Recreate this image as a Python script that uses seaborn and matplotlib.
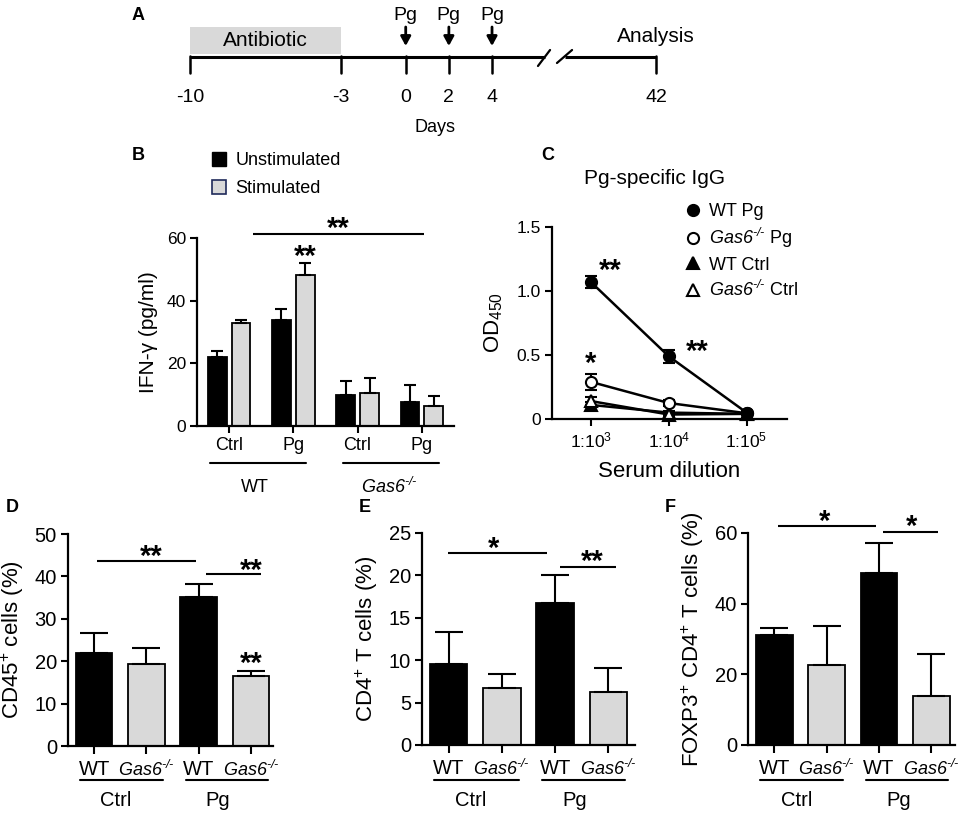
import numpy as np
import pandas as pd
import matplotlib
matplotlib.use('Agg')
import matplotlib.pyplot as plt
import matplotlib.transforms as mtrans
from matplotlib.patches import Rectangle, Patch
from matplotlib.lines import Line2D
import seaborn as sns

# ---- values ----
# A: timeline (days)
timeline_days = [-10, -3, 0, 2, 4, 42]
pg_days = [0, 2, 4]
antibiotic_days = [-10, -3]

# B: IFN-gamma (pg/ml)
b_groups = ['WT Ctrl', 'WT Pg', 'Gas6 Ctrl', 'Gas6 Pg']
b_ticklabels = ['Ctrl', 'Pg', 'Ctrl', 'Pg']
b_unstim = [22.0, 33.7, 9.9, 7.7]
b_unstim_err = [2.0, 3.7, 4.4, 5.5]
b_stim = [32.8, 48.2, 10.6, 6.5]
b_stim_err = [1.1, 3.7, 4.7, 3.2]

# C: Pg-specific IgG (OD450)
c_dilutions = ['1:10$^{3}$', '1:10$^{4}$', '1:10$^{5}$']
c_wt_pg = [1.07, 0.49, 0.05]
c_wt_pg_err = [0.045, 0.05, 0.01]
c_gas6_pg = [0.29, 0.125, 0.045]
c_gas6_pg_err = [0.06, 0.02, 0.01]
c_wt_ctrl = [0.11, 0.05, 0.04]
c_wt_ctrl_err = [0.02, 0.01, 0.005]
c_gas6_ctrl = [0.14, 0.035, 0.04]
c_gas6_ctrl_err = [0.03, 0.01, 0.005]

# D-F: cell percentages
cell_groups = ['WT Ctrl', 'Gas6 Ctrl', 'WT Pg', 'Gas6 Pg']
d_cd45 = [22.0, 19.4, 35.2, 16.4]
d_cd45_err = [4.6, 3.6, 3.1, 1.2]
e_cd4 = [9.5, 6.7, 16.7, 6.2]
e_cd4_err = [3.8, 1.7, 3.4, 2.9]
f_foxp3 = [31.2, 22.7, 48.7, 13.9]
f_foxp3_err = [1.9, 10.9, 8.5, 11.8]

# italic gene name with a small "-/-" (real hyphens, not minus signs)
GAS6 = '$\\mathsf{Gas6}^{\\mathsf{\u2010/\u2010}}$'
GREY = '#d9d9d9'

sns.set_style('ticks', rc={'axes.edgecolor': 'black', 'xtick.color': 'black',
                           'ytick.color': 'black', 'text.color': 'black',
                           'axes.labelcolor': 'black'})
plt.rcParams['font.family'] = ['Liberation Sans', 'DejaVu Sans']
plt.rcParams['mathtext.fontset'] = 'custom'
plt.rcParams['mathtext.rm'] = 'Liberation Sans'
plt.rcParams['mathtext.it'] = 'Liberation Sans:italic'
plt.rcParams['mathtext.sf'] = 'Liberation Sans:italic'
plt.rcParams['mathtext.bf'] = 'Liberation Sans:bold'
plt.rcParams['mathtext.default'] = 'regular'

W, H = 965, 817
fig = plt.figure(figsize=(W / 100, H / 100), dpi=100)


def px_axes(x0, y0, x1, y1):
    return fig.add_axes([x0 / W, 1 - y1 / H, (x1 - x0) / W, (y1 - y0) / H])


def fy(py):
    return 1 - py / H


def style_axes(ax, fs):
    sns.despine(ax=ax)
    for s in ['left', 'bottom']:
        ax.spines[s].set_linewidth(1.6)
    ax.tick_params(axis='both', width=1.5, length=5, labelsize=fs, pad=3)


def stars(ax, x, y, txt, fs=21):
    # y is where the centre of the asterisk glyph should sit
    ax.annotate(txt, (x, y), xytext=(0, -0.42 * fs), textcoords='offset points',
                ha='center', va='baseline', fontsize=fs, fontweight='bold',
                annotation_clip=False)


def hline(ax, x0, x1, y):
    ax.plot([x0, x1], [y, y], color='k', lw=1.5, clip_on=False, solid_capstyle='butt')


def panel_letter(px, py, s):
    fig.text(px / W, fy(py), s, fontsize=13, fontweight='bold', ha='center', va='center')


# ---------------- A: timeline ----------------
ax_a = px_axes(100, 0, 700, 140)
ax_a.set_xlim(-14.17, 13.64)
ax_a.set_ylim(140, 0)
ax_a.axis('off')


def day_pos(d):
    return d if d < 10 else 11.6


ax_a.add_patch(Rectangle((antibiotic_days[0], 27), antibiotic_days[1] - antibiotic_days[0], 27,
                         facecolor=GREY, edgecolor='none'))
ax_a.text(np.mean(antibiotic_days), 41, 'Antibiotic', fontsize=15, ha='center', va='center')
ax_a.plot([-10, 6.46], [57, 57], color='k', lw=2.2, solid_capstyle='butt')
ax_a.plot([7.39, day_pos(42)], [57, 57], color='k', lw=2.2, solid_capstyle='butt')
ax_a.plot([6.13, 6.69], [66, 50], color='k', lw=1.6)
ax_a.plot([7.01, 7.71], [63, 50], color='k', lw=1.6)
for d in timeline_days:
    ax_a.plot([day_pos(d)] * 2, [56, 73], color='k', lw=1.8)
    ax_a.text(day_pos(d), 97, str(d), fontsize=14, ha='center', va='center')
for d in pg_days:
    ax_a.text(d, 15, 'Pg', fontsize=14, ha='center', va='center')
    ax_a.annotate('', xy=(d, 46), xytext=(d, 27),
                  arrowprops=dict(arrowstyle='-|>,head_width=0.3,head_length=0.55',
                                  color='k', lw=2, shrinkA=0, shrinkB=0))
ax_a.text(day_pos(42), 37, 'Analysis', fontsize=15, ha='center', va='center')
ax_a.text(1.36, 127, 'Days', fontsize=13, ha='center', va='center')
panel_letter(138, 15, 'A')

# ---------------- B: IFN-gamma ----------------
ax_b = px_axes(197, 238, 454, 426)
df_b = pd.DataFrame({'group': b_groups * 2,
                     'condition': ['Unstimulated'] * 4 + ['Stimulated'] * 4,
                     'value': b_unstim + b_stim})
sns.barplot(data=df_b, x='group', y='value', hue='condition',
            palette={'Unstimulated': 'black', 'Stimulated': GREY},
            width=0.74, gap=0.22, edgecolor='black', linewidth=1.3,
            errorbar=None, legend=False, ax=ax_b)
for cont, vals, errs in zip(ax_b.containers, [b_unstim, b_stim], [b_unstim_err, b_stim_err]):
    xs = [p.get_x() + p.get_width() / 2 for p in cont]
    ax_b.errorbar(xs, vals, yerr=[np.zeros(len(vals)), errs], fmt='none', ecolor='k',
                  elinewidth=1.5, capsize=4.5, capthick=1.5, zorder=1)
style_axes(ax_b, 12.5)
ax_b.set_xticks(range(4), b_ticklabels, fontsize=13)
ax_b.set_yticks([0, 20, 40, 60])
ax_b.set_xlabel('')
ax_b.set_ylabel('IFN-γ (pg/ml)', fontsize=15, labelpad=6)
hline(ax_b, 0.37, 3.03, 61.3)
stars(ax_b, 1.7, 64.2, '**')
stars(ax_b, 1.185, 55.3, '**')
tb = mtrans.blended_transform_factory(ax_b.transData, fig.transFigure)
for (x0, x1), xc, lbl in zip([(-0.29, 1.19), (1.78, 3.26)], [0.4, 2.5], ['WT', GAS6]):
    ax_b.plot([x0, x1], [fy(463)] * 2, color='k', lw=1.5, transform=tb, clip_on=False)
    ax_b.text(xc, fy(487), lbl, fontsize=13, ha='center', va='center', transform=tb)
ax_b.set_xlim(-0.5, 3.5)
ax_b.set_ylim(0, 60)
fig.legend(handles=[Patch(facecolor='black', edgecolor='black'),
                    Patch(facecolor=GREY, edgecolor='#1f2a5a', linewidth=1.2)],
           labels=['Unstimulated', 'Stimulated'], loc='upper left',
           bbox_to_anchor=(212 / W, fy(152)), frameon=False, fontsize=13,
           handlelength=0.8, handleheight=0.8, handletextpad=0.5,
           labelspacing=0.6, borderpad=0, borderaxespad=0)
panel_letter(138, 155, 'B')

# ---------------- C: Pg-specific IgG ----------------
ax_c = px_axes(552, 227, 787, 419)
c_x = [0, 1, 2]
c_series = [(c_wt_ctrl, c_wt_ctrl_err, '^', 'black'),
            (c_gas6_ctrl, c_gas6_ctrl_err, '^', 'white'),
            (c_gas6_pg, c_gas6_pg_err, 'o', 'white'),
            (c_wt_pg, c_wt_pg_err, 'o', 'black')]
for vals, errs, mk, fc in c_series:
    ax_c.errorbar(c_x, vals, yerr=errs, fmt='none', ecolor='k', elinewidth=1.5,
                  capsize=4, capthick=1.5)
    sns.lineplot(x=c_x, y=vals, marker=mk, color='k', markerfacecolor=fc,
                 markeredgecolor='k', markeredgewidth=1.5, markersize=8,
                 linewidth=1.8, ax=ax_c, clip_on=False)
style_axes(ax_c, 12.5)
ax_c.set_xticks(c_x, c_dilutions)
ax_c.set_yticks([0, 0.5, 1.0, 1.5], ['0', '0.5', '1.0', '1.5'])
ax_c.set_xlim(-0.5, 2.52)
ax_c.set_ylim(0, 1.5)
ax_c.set_ylabel(r'OD$_{450}$', fontsize=16, labelpad=8)
ax_c.set_xlabel('Serum dilution', fontsize=16, labelpad=8)
stars(ax_c, 0.25, 1.19, '**')
stars(ax_c, 1.37, 0.56, '**')
stars(ax_c, 0.0, 0.46, '*')
fig.text(655 / W, fy(179), 'Pg-specific IgG', fontsize=15, ha='center', va='center')
c_handles = [Line2D([], [], ls='none', marker='o', color='k', mfc='black', mew=1.5, ms=8),
             Line2D([], [], ls='none', marker='o', color='k', mfc='white', mew=1.5, ms=8),
             Line2D([], [], ls='none', marker='^', color='k', mfc='black', mew=1.5, ms=8),
             Line2D([], [], ls='none', marker='^', color='k', mfc='white', mew=1.5, ms=8)]
fig.legend(handles=c_handles,
           labels=['WT Pg', GAS6 + ' Pg', 'WT Ctrl', GAS6 + ' Ctrl'],
           loc='upper left', bbox_to_anchor=(684 / W, fy(203)), frameon=False,
           fontsize=13, handlelength=1.0, handletextpad=0.4, labelspacing=0.35,
           borderpad=0, borderaxespad=0)
panel_letter(548, 155, 'C')

# ---------------- D-F: cell bars ----------------
cell_colors = dict(zip(cell_groups, ['black', GREY, 'black', GREY]))
cell_ticklabels = ['WT', GAS6, 'WT', GAS6]


def cell_panel(rect, vals, errs, ymax, ystep, ylabel, xmax):
    ax = px_axes(*rect)
    sns.barplot(x=cell_groups, y=vals, hue=cell_groups, palette=cell_colors,
                width=0.7, edgecolor='black', linewidth=1.3, errorbar=None,
                legend=False, ax=ax)
    ax.errorbar(range(len(vals)), vals, yerr=[np.zeros(len(vals)), errs], fmt='none',
                ecolor='k', elinewidth=1.5, capsize=10, capthick=1.5, zorder=1)
    style_axes(ax, 14.5)
    ax.set_xticks(range(4), cell_ticklabels, fontsize=14.5)
    for lab in ax.get_xticklabels()[1::2]:
        lab.set_fontsize(13)
    ax.tick_params(axis='x', length=6, pad=4)
    ax.set_yticks(np.arange(0, ymax + 0.1, ystep))
    ax.set_ylabel(ylabel, fontsize=16, labelpad=6)
    tr = mtrans.blended_transform_factory(ax.transData, fig.transFigure)
    for (x0, x1), xc, lbl in zip([(-0.27, 1.32), (1.75, 3.32)], [0.42, 2.37], ['Ctrl', 'Pg']):
        ax.plot([x0, x1], [fy(780)] * 2, color='k', lw=1.5, transform=tr, clip_on=False)
        ax.text(xc, fy(800), lbl, fontsize=14.5, ha='center', va='center', transform=tr)
    ax.set_xlim(-0.5, xmax)
    ax.set_ylim(0, ymax)
    return ax


ax_d = cell_panel((68, 534, 273, 746), d_cd45, d_cd45_err, 50, 10,
                  r'CD45$^{+}$ cells (%)', 3.42)
hline(ax_d, 0.06, 1.94, 43.6)
stars(ax_d, 1.1, 45.5, '**')
hline(ax_d, 2.14, 3.2, 40.6)
stars(ax_d, 3.0, 42.2, '**')
stars(ax_d, 3.0, 20.3, '**')
panel_letter(12, 508, 'D')

ax_e = cell_panel((422, 533, 635, 745), e_cd4, e_cd4_err, 25, 5,
                  r'CD4$^{+}$ T cells (%)', 3.5)
hline(ax_e, -0.02, 1.84, 22.6)
stars(ax_e, 0.84, 23.6, '*')
hline(ax_e, 2.1, 3.15, 21.0)
stars(ax_e, 2.7, 22.05, '**')
panel_letter(365, 507, 'E')

ax_f = cell_panel((748, 533, 955, 745), f_foxp3, f_foxp3_err, 60, 20,
                  r'FOXP3$^{+}$ CD4$^{+}$ T cells (%)', 3.45)
hline(ax_f, 0.08, 1.94, 62.0)
stars(ax_f, 0.96, 64.3, '*')
hline(ax_f, 2.08, 3.13, 60.3)
stars(ax_f, 2.62, 62.9, '*')
panel_letter(670, 507, 'F')

fig.savefig('out.png', dpi=100)
